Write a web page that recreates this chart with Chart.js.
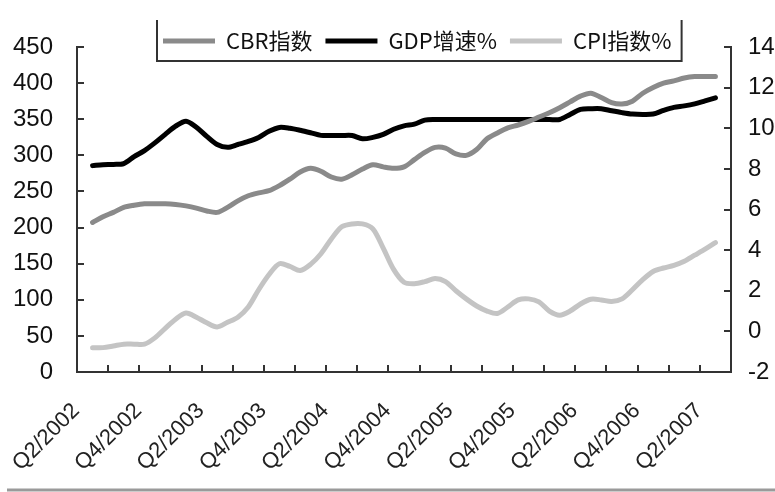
<!DOCTYPE html>
<html>
<head>
<meta charset="utf-8">
<script src="https://cdn.jsdelivr.net/npm/chart.js@4/dist/chart.umd.min.js"></script>
<style>
  body { margin: 0; background: #fff; }
  #wrap { width: 775px; height: 492px; }
</style>
</head>
<body>
<div id="wrap"><canvas id="chart" width="775" height="492"></canvas></div>
<script>
// monthly categories, Apr 2002 .. Jun 2007
const months = [];
for (let y = 2002; y <= 2007; y++) {
    for (let m = 1; m <= 12; m++) {
        if ((y === 2002 && m < 4) || (y === 2007 && m > 6)) continue;
        months.push(y + '-' + String(m).padStart(2, '0'));
    }
}
const tickLabels = ['Q2/2002','Q4/2002','Q2/2003','Q4/2003','Q2/2004','Q4/2004','Q2/2005','Q4/2005','Q2/2006','Q4/2006','Q2/2007'];

const cbr = [null,
    207,215,221,228,231,233,233,233,232,230,
    227,223,221,228,237,244,248,251,258,267,
    277,282,278,270,267,273,281,287,284,282,
    284,294,304,311,310,302,300,308,323,331,
    338,342,347,353,359,366,374,382,386,380,
    373,371,375,386,394,400,403,407,409,409,
    409, null];
const gdp = [null,
    8.16,8.2,8.22,8.26,8.6,8.9,9.28,9.7,10.1,10.35,
    10.05,9.6,9.2,9.06,9.2,9.35,9.55,9.85,10.04,10.0,
    9.9,9.78,9.65,9.64,9.64,9.64,9.48,9.55,9.7,9.95,
    10.12,10.2,10.4,10.43,10.43,10.43,10.43,10.43,10.43,10.43,
    10.43,10.43,10.43,10.43,10.43,10.43,10.68,10.93,10.96,10.96,
    10.86,10.77,10.7,10.68,10.7,10.88,11.03,11.1,11.2,11.35,
    11.5, null];
const cpi = [null,
    -0.8,-0.8,-0.72,-0.63,-0.63,-0.63,-0.32,0.15,0.6,0.9,
    0.7,0.42,0.22,0.45,0.7,1.2,2.05,2.8,3.33,3.2,
    3.0,3.3,3.82,4.55,5.15,5.29,5.29,5.05,4.1,3.05,
    2.42,2.35,2.45,2.6,2.45,2.0,1.6,1.25,1.0,0.88,
    1.2,1.55,1.6,1.45,1.0,0.8,1.0,1.35,1.58,1.55,
    1.47,1.6,2.05,2.55,2.95,3.12,3.25,3.45,3.75,4.05,
    4.37, null];

const axisColor = '#333';
const tickFont = { family: 'Liberation Sans', size: 24 };

// moves the legend over the plot top and draws its frame
const legendFrame = {
    id: 'legendFrame',
    afterLayout(chart){
        const lg = chart.legend;
        const p = lg.options.labels.padding;
        const start = (lg.left + p + lg.right - lg.lineWidths[0]) / 2;
        const dx = 163 - start;
        lg.left += dx; lg.right += dx;
        lg.top = 17; lg.bottom = lg.top + lg.height;
    },
    afterDraw(chart){
        const ctx = chart.ctx;
        const boxes = chart.legend.legendHitBoxes;
        const last = boxes[boxes.length - 1];
        const l = boxes[0].left - 6, r = last.left + last.width + 10;
        ctx.save();
        ctx.strokeStyle = axisColor; ctx.lineWidth = 2;
        ctx.beginPath(); ctx.moveTo(l, 20); ctx.lineTo(l, 61); ctx.lineTo(r, 61); ctx.lineTo(r, 20); ctx.stroke();
        ctx.strokeStyle = '#9a9a9a'; ctx.lineWidth = 3;
        ctx.beginPath(); ctx.moveTo(7, 490); ctx.lineTo(775, 490); ctx.stroke();
        ctx.restore();
    }
};

new Chart(document.getElementById('chart'), {
    type: 'line',
    data: {
        labels: months,
        datasets: [
            { label: 'CBR指数', data: cbr, yAxisID: 'y', borderColor: '#8a8a8a', backgroundColor: '#8a8a8a', borderWidth: 5 },
            { label: 'GDP增速%', data: gdp, yAxisID: 'y1', borderColor: '#000', backgroundColor: '#000', borderWidth: 5 },
            { label: 'CPI指数%', data: cpi, yAxisID: 'y1', borderColor: '#c4c4c4', backgroundColor: '#c4c4c4', borderWidth: 5 }
        ]
    },
    options: {
        responsive: false,
        animation: false,
        devicePixelRatio: 1,
        layout: { padding: { top: 7, left: 0, right: 0, bottom: 0 } },
        elements: {
            point: { radius: 0 },
            line: { tension: 0.3, borderJoinStyle: 'round', borderCapStyle: 'round' }
        },
        plugins: {
            tooltip: { enabled: false },
            legend: {
                position: 'top',
                maxHeight: 40,
                labels: {
                    font: { family: 'Noto Sans CJK SC', size: 22 },
                    color: '#111',
                    boxWidth: 52,
                    boxHeight: 5,
                    padding: 13,
                    generateLabels(chart){
                        const items = Chart.defaults.plugins.legend.labels.generateLabels(chart);
                        items.forEach(it => { it.lineWidth = 0; });
                        return items;
                    }
                }
            }
        },
        scales: {
            x: {
                offset: true,
                afterFit(s){ s.height = 120; s.paddingLeft = 0; s.paddingRight = 0; },
                border: { display: true, color: axisColor, width: 2 },
                grid: {
                    offset: true,
                    drawOnChartArea: false,
                    tickLength: -7,
                    lineWidth: 2,
                    color: c => (c.index % 3 === 0 ? axisColor : 'rgba(0,0,0,0)')
                },
                ticks: {
                    autoSkip: false,
                    minRotation: 45,
                    maxRotation: 45,
                    padding: 33,
                    labelOffset: -6,
                    color: '#222',
                    font: { family: 'Liberation Sans', size: 22 },
                    callback: (v, i) => (i % 6 === 0 ? tickLabels[i / 6] : '')
                }
            },
            y: {
                position: 'left',
                min: 0, max: 450,
                afterFit(s){ s.width = 77; },
                border: { display: true, color: axisColor, width: 2 },
                grid: { drawOnChartArea: false, tickLength: -7, lineWidth: 2, color: axisColor },
                ticks: { stepSize: 50, padding: 31, color: '#111', font: tickFont }
            },
            y1: {
                position: 'right',
                min: -2, max: 14,
                afterFit(s){ s.width = 44; },
                border: { display: true, color: axisColor, width: 2 },
                grid: { drawOnChartArea: false, tickLength: -7, lineWidth: 2, color: axisColor },
                ticks: { stepSize: 2, padding: 24, color: '#111', font: tickFont }
            }
        }
    },
    plugins: [legendFrame]
});
</script>
</body>
</html>
